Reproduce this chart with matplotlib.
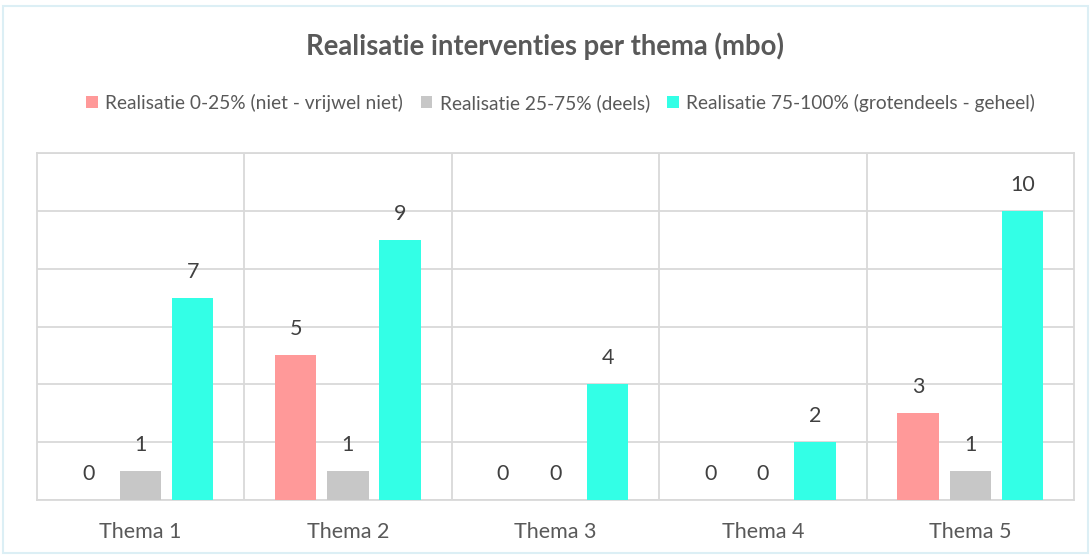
import numpy as np
import matplotlib.pyplot as plt
from matplotlib.patches import Rectangle

plt.rcParams['font.family'] = ['Lato', 'DejaVu Sans']

themas = ['Thema 1', 'Thema 2', 'Thema 3', 'Thema 4', 'Thema 5']
series_names = ['Realisatie 0-25% (niet - vrijwel niet)',
                'Realisatie 25-75% (deels)',
                'Realisatie 75-100% (grotendeels - geheel)']
laag = [0, 5, 0, 0, 3]
deels = [1, 1, 0, 0, 1]
hoog = [7, 9, 4, 2, 10]

colors = ['#FF9999', '#C7C7C7', '#33FFE6']
txt = '#404040'
grid = '#D9D9D9'

fig = plt.figure(figsize=(10.91, 5.55), dpi=100)
fig.patches.append(Rectangle((0.003, 0.003), 0.994, 0.986, transform=fig.transFigure,
                             fill=False, edgecolor='#DCEFF5', linewidth=1.5))
ax = fig.add_axes([0.0336, 0.0991, 0.9508, 0.6252])

x = np.arange(len(themas))
off = 0.252
w = 0.2
for i, (vals, name) in enumerate(zip([laag, deels, hoog], series_names)):
    pos = x + (i - 1) * off
    ax.bar(pos, vals, width=w, color=colors[i], label=name, zorder=3)
    for px, v in zip(pos, vals):
        ax.annotate(str(v), (px, v), xytext=(0, 18.7), textcoords='offset points',
                    ha='center', va='center', fontsize=15.5, color=txt)

ax.set_xlim(-0.5, 4.5)
ax.set_ylim(0, 12)
ax.set_yticks(np.arange(0, 13, 2))
ax.set_xticks(x)
ax.set_xticklabels(themas, fontsize=15.5, color='#595959')
ax.tick_params(axis='x', length=0, pad=16)
ax.tick_params(axis='y', length=0, labelleft=False)
ax.set_xticks(np.arange(0.5, 4.5, 1), minor=True)
ax.tick_params(axis='x', which='minor', length=0)
ax.grid(axis='y', color=grid, linewidth=1.3, zorder=0)
ax.grid(axis='x', which='minor', color=grid, linewidth=1.3, zorder=0)
for s in ax.spines.values():
    s.set_color(grid)
    s.set_linewidth(1.3)

fig.text(0.5, 0.916, 'Realisatie interventies per thema (mbo)', ha='center', va='center',
         fontsize=19.8, fontweight='bold', color='#595959')
fig.legend(loc='center', bbox_to_anchor=(0.514, 0.815), ncol=3, frameon=False,
           fontsize=13.8, handlelength=0.6, handleheight=0.6, handletextpad=0.4,
           columnspacing=0.9, labelcolor='#595959')

fig.savefig('out.png', dpi=100)
